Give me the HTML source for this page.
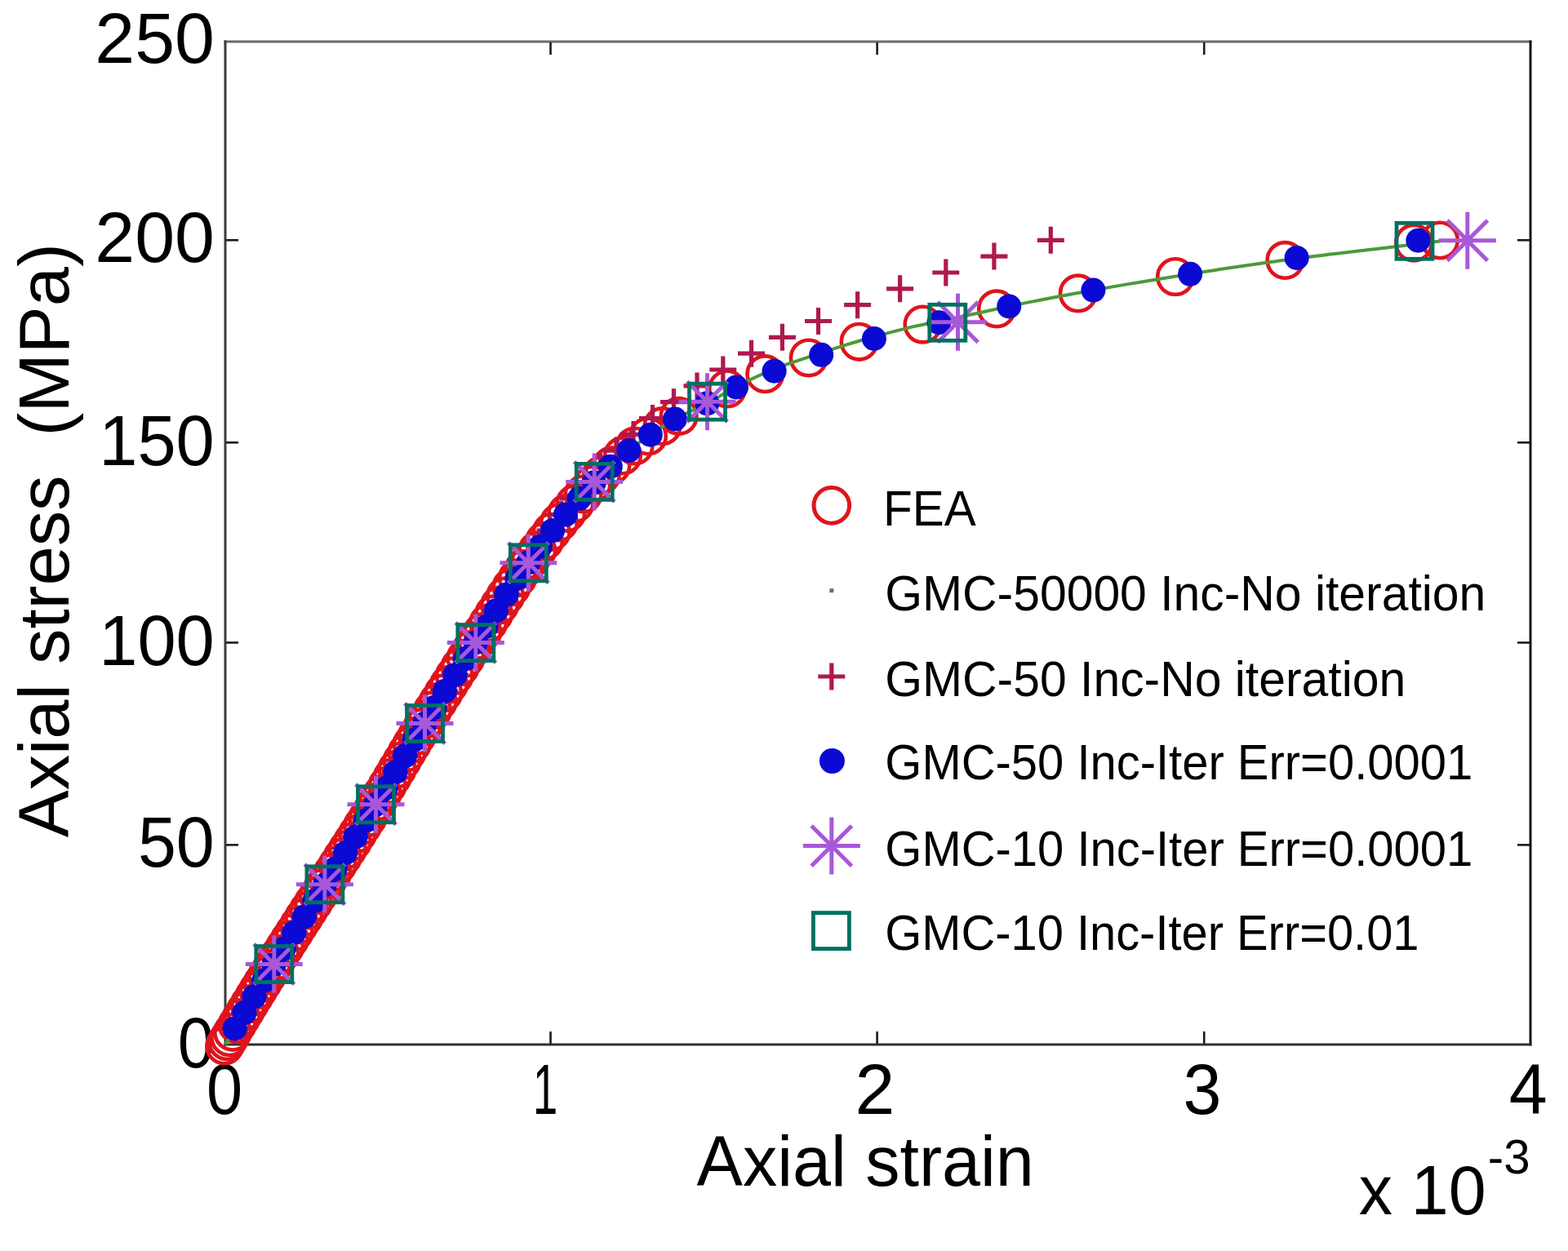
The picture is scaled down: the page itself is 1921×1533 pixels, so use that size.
<!DOCTYPE html>
<html><head><meta charset="utf-8"><title>Axial stress vs axial strain</title><style>html,body{margin:0;padding:0;background:#fff;overflow:hidden;}svg{display:block;}text{white-space:pre;}</style></head><body>
<svg width="1921" height="1533" viewBox="0 0 1921 1533">
<rect width="1921" height="1533" fill="#ffffff"/>
<g id="axes"><line x1="274.5" y1="51" x2="1876.5" y2="51" stroke="#6a6a6a" stroke-width="3"/><line x1="276" y1="49.5" x2="276" y2="1281.5" stroke="#3c3c3c" stroke-width="3"/><line x1="1875" y1="49.5" x2="1875" y2="1281.5" stroke="#141414" stroke-width="3"/><line x1="274.5" y1="1280" x2="1876.5" y2="1280" stroke="#303030" stroke-width="3"/><line x1="277" y1="1035.4" x2="292" y2="1035.4" stroke="#1a1a1a" stroke-width="2.6"/><line x1="1859" y1="1035.4" x2="1874" y2="1035.4" stroke="#1a1a1a" stroke-width="2.6"/><line x1="277" y1="787.5" x2="292" y2="787.5" stroke="#1a1a1a" stroke-width="2.6"/><line x1="1859" y1="787.5" x2="1874" y2="787.5" stroke="#1a1a1a" stroke-width="2.6"/><line x1="277" y1="542.3" x2="292" y2="542.3" stroke="#1a1a1a" stroke-width="2.6"/><line x1="1859" y1="542.3" x2="1874" y2="542.3" stroke="#1a1a1a" stroke-width="2.6"/><line x1="277" y1="294.3" x2="292" y2="294.3" stroke="#1a1a1a" stroke-width="2.6"/><line x1="1859" y1="294.3" x2="1874" y2="294.3" stroke="#1a1a1a" stroke-width="2.6"/><line x1="674.5" y1="1279" x2="674.5" y2="1264" stroke="#1a1a1a" stroke-width="2.6"/><line x1="674.5" y1="52" x2="674.5" y2="67" stroke="#1a1a1a" stroke-width="2.6"/><line x1="1074.6" y1="1279" x2="1074.6" y2="1264" stroke="#1a1a1a" stroke-width="2.6"/><line x1="1074.6" y1="52" x2="1074.6" y2="67" stroke="#1a1a1a" stroke-width="2.6"/><line x1="1475.2" y1="1279" x2="1475.2" y2="1264" stroke="#1a1a1a" stroke-width="2.6"/><line x1="1475.2" y1="52" x2="1475.2" y2="67" stroke="#1a1a1a" stroke-width="2.6"/></g>
<g font-family="Liberation Sans, Arial, Helvetica, sans-serif" fill="#000"><text x="217.87" y="1307.50" font-size="87.5" textLength="44.68" lengthAdjust="spacingAndGlyphs">0</text><text x="168.93" y="1062.20" font-size="87.5" textLength="93.79" lengthAdjust="spacingAndGlyphs">50</text><text x="121.25" y="814.50" font-size="87.5" textLength="141.49" lengthAdjust="spacingAndGlyphs">100</text><text x="121.25" y="569.50" font-size="87.5" textLength="141.49" lengthAdjust="spacingAndGlyphs">150</text><text x="116.31" y="321.30" font-size="87.5" textLength="146.56" lengthAdjust="spacingAndGlyphs">200</text><text x="116.31" y="77.00" font-size="87.5" textLength="146.56" lengthAdjust="spacingAndGlyphs">250</text><text x="252.96" y="1365.30" font-size="87.5" textLength="44.10" lengthAdjust="spacingAndGlyphs">0</text><text x="652.77" y="1365.30" font-size="87.5" textLength="30.58" lengthAdjust="spacingAndGlyphs">1</text><text x="1047.51" y="1365.30" font-size="87.5" textLength="48.79" lengthAdjust="spacingAndGlyphs">2</text><text x="1449.59" y="1365.30" font-size="87.5" textLength="46.93" lengthAdjust="spacingAndGlyphs">3</text><text x="1848.71" y="1365.30" font-size="87.5" textLength="46.90" lengthAdjust="spacingAndGlyphs">4</text><text x="853.53" y="1453.30" font-size="87.5" textLength="413.33" lengthAdjust="spacingAndGlyphs">Axial strain</text><text x="1664.71" y="1488.30" font-size="85.4" textLength="155.82" lengthAdjust="spacingAndGlyphs">x 10</text><text x="1822.84" y="1438.30" font-size="60" textLength="51.73" lengthAdjust="spacingAndGlyphs">-3</text></g>
<g transform="translate(84.3,1026.17) rotate(-90)"><text x="0" y="0" font-family="Liberation Sans, Arial, Helvetica, sans-serif" font-size="87.5" textLength="727.97" lengthAdjust="spacingAndGlyphs">Axial stress  (MPa)</text></g>
<g id="data"><g fill="none" stroke="#e0141c" stroke-width="4.6"><circle cx="275.1" cy="1281.5" r="21.8"/><circle cx="278.2" cy="1276.3" r="21.8"/><circle cx="281.2" cy="1271.2" r="21.8"/><circle cx="285.0" cy="1264.8" r="21.8"/><circle cx="290.6" cy="1255.5" r="21.8"/><circle cx="295.7" cy="1247.1" r="21.8"/><circle cx="300.8" cy="1238.6" r="21.8"/><circle cx="306.0" cy="1230.1" r="21.8"/><circle cx="311.2" cy="1221.5" r="21.8"/><circle cx="316.5" cy="1212.9" r="21.8"/><circle cx="321.8" cy="1204.3" r="21.8"/><circle cx="327.2" cy="1195.6" r="21.8"/><circle cx="332.6" cy="1186.8" r="21.8"/><circle cx="338.1" cy="1178.1" r="21.8"/><circle cx="343.6" cy="1169.2" r="21.8"/><circle cx="349.2" cy="1160.4" r="21.8"/><circle cx="354.9" cy="1151.4" r="21.8"/><circle cx="360.6" cy="1142.5" r="21.8"/><circle cx="366.3" cy="1133.5" r="21.8"/><circle cx="372.2" cy="1124.4" r="21.8"/><circle cx="378.0" cy="1115.3" r="21.8"/><circle cx="383.9" cy="1106.2" r="21.8"/><circle cx="389.8" cy="1097.0" r="21.8"/><circle cx="395.7" cy="1087.8" r="21.8"/><circle cx="401.6" cy="1078.5" r="21.8"/><circle cx="407.6" cy="1069.2" r="21.8"/><circle cx="413.6" cy="1059.8" r="21.8"/><circle cx="419.7" cy="1050.4" r="21.8"/><circle cx="425.8" cy="1040.9" r="21.8"/><circle cx="432.0" cy="1031.4" r="21.8"/><circle cx="438.1" cy="1021.7" r="21.8"/><circle cx="444.2" cy="1011.9" r="21.8"/><circle cx="450.4" cy="1002.2" r="21.8"/><circle cx="456.5" cy="992.3" r="21.8"/><circle cx="462.6" cy="982.4" r="21.8"/><circle cx="468.6" cy="972.5" r="21.8"/><circle cx="474.6" cy="962.5" r="21.8"/><circle cx="480.6" cy="952.5" r="21.8"/><circle cx="486.6" cy="942.4" r="21.8"/><circle cx="492.6" cy="932.3" r="21.8"/><circle cx="498.6" cy="922.1" r="21.8"/><circle cx="504.7" cy="911.9" r="21.8"/><circle cx="510.9" cy="901.6" r="21.8"/><circle cx="517.2" cy="891.2" r="21.8"/><circle cx="523.6" cy="880.8" r="21.8"/><circle cx="530.1" cy="870.4" r="21.8"/><circle cx="536.7" cy="859.9" r="21.8"/><circle cx="543.3" cy="849.4" r="21.8"/><circle cx="550.0" cy="838.8" r="21.8"/><circle cx="556.8" cy="828.1" r="21.8"/><circle cx="563.6" cy="817.4" r="21.8"/><circle cx="570.5" cy="806.6" r="21.8"/><circle cx="577.5" cy="795.8" r="21.8"/><circle cx="584.4" cy="785.0" r="21.8"/><circle cx="591.3" cy="774.2" r="21.8"/><circle cx="598.2" cy="763.3" r="21.8"/><circle cx="605.2" cy="752.4" r="21.8"/><circle cx="612.1" cy="741.5" r="21.8"/><circle cx="619.2" cy="730.4" r="21.8"/><circle cx="626.5" cy="719.4" r="21.8"/><circle cx="634.0" cy="708.2" r="21.8"/><circle cx="641.8" cy="697.1" r="21.8"/><circle cx="649.9" cy="685.8" r="21.8"/><circle cx="658.3" cy="674.5" r="21.8"/><circle cx="666.9" cy="663.2" r="21.8"/><circle cx="675.7" cy="651.8" r="21.8"/><circle cx="684.9" cy="640.3" r="21.8"/><circle cx="694.4" cy="628.8" r="21.8"/><circle cx="704.3" cy="617.2" r="21.8"/><circle cx="714.6" cy="605.5" r="21.8"/><circle cx="725.4" cy="593.8" r="21.8"/><circle cx="736.9" cy="582.1" r="21.8"/><circle cx="749.4" cy="570.3" r="21.8"/><circle cx="762.9" cy="558.4" r="21.8"/><circle cx="777.5" cy="546.5" r="21.8"/><circle cx="794.0" cy="534.4" r="21.8"/><circle cx="811.5" cy="522.2" r="21.8"/><circle cx="831.6" cy="509.9" r="21.8"/><circle cx="891.0" cy="476.5" r="21.8"/><circle cx="937.3" cy="458.2" r="21.8"/><circle cx="990.7" cy="438.5" r="21.8"/><circle cx="1052.6" cy="418.8" r="21.8"/><circle cx="1130.5" cy="397.6" r="21.8"/><circle cx="1221.0" cy="378.4" r="21.8"/><circle cx="1320.8" cy="359.4" r="21.8"/><circle cx="1440.0" cy="339.1" r="21.8"/><circle cx="1574.4" cy="318.9" r="21.8"/><circle cx="1732.0" cy="297.7" r="21.8"/><circle cx="1764.0" cy="294.5" r="21.8"/></g><polyline fill="none" stroke="#4c9a38" stroke-width="4" stroke-linejoin="round" points="276.0,1280.0 277.5,1277.6 278.9,1275.1 280.4,1272.7 281.8,1270.2 283.3,1267.8 284.7,1265.3 286.2,1262.9 287.7,1260.4 289.1,1258.0 290.6,1255.5 292.1,1253.1 293.5,1250.6 295.0,1248.2 296.5,1245.8 298.0,1243.3 299.5,1240.9 300.9,1238.4 302.4,1236.0 303.9,1233.5 305.4,1231.1 306.9,1228.6 308.4,1226.2 309.9,1223.7 311.4,1221.3 312.9,1218.8 314.4,1216.4 315.8,1214.0 317.4,1211.5 318.9,1209.1 320.4,1206.6 321.9,1204.2 323.4,1201.7 324.9,1199.3 326.4,1196.8 327.9,1194.4 329.4,1191.9 330.9,1189.5 332.5,1187.1 334.0,1184.6 335.5,1182.2 337.0,1179.7 338.6,1177.3 340.1,1174.8 341.6,1172.4 343.2,1169.9 344.7,1167.5 346.2,1165.0 347.8,1162.6 349.3,1160.1 350.9,1157.7 352.4,1155.3 354.0,1152.8 355.6,1150.4 357.1,1147.9 358.7,1145.5 360.2,1143.0 361.8,1140.6 363.4,1138.1 364.9,1135.7 366.5,1133.2 368.1,1130.8 369.6,1128.3 371.2,1125.9 372.8,1123.5 374.4,1121.0 375.9,1118.6 377.5,1116.1 379.1,1113.7 380.6,1111.2 382.2,1108.8 383.8,1106.3 385.4,1103.9 386.9,1101.4 388.5,1099.0 390.1,1096.5 391.6,1094.1 393.2,1091.7 394.8,1089.2 396.3,1086.8 397.9,1084.3 399.5,1081.9 401.0,1079.4 402.6,1077.0 404.2,1074.5 405.7,1072.1 407.3,1069.6 408.9,1067.2 410.5,1064.8 412.0,1062.3 413.6,1059.9 415.2,1057.4 416.8,1055.0 418.3,1052.5 419.9,1050.1 421.5,1047.6 423.1,1045.2 424.7,1042.7 426.2,1040.3 427.8,1037.8 429.4,1035.4 431.0,1032.9 432.5,1030.4 434.1,1028.0 435.7,1025.5 437.2,1023.0 438.8,1020.5 440.4,1018.0 441.9,1015.6 443.5,1013.1 445.1,1010.6 446.6,1008.1 448.2,1005.7 449.7,1003.2 451.3,1000.7 452.8,998.2 454.4,995.7 455.9,993.3 457.4,990.8 459.0,988.3 460.5,985.8 462.0,983.3 463.5,980.9 465.1,978.4 466.6,975.9 468.1,973.4 469.6,970.9 471.1,968.5 472.5,966.0 474.0,963.5 475.5,961.0 477.0,958.6 478.5,956.1 479.9,953.6 481.4,951.1 482.9,948.6 484.4,946.2 485.8,943.7 487.3,941.2 488.8,938.7 490.2,936.2 491.7,933.8 493.2,931.3 494.6,928.8 496.1,926.3 497.6,923.8 499.1,921.4 500.5,918.9 502.0,916.4 503.5,913.9 505.0,911.5 506.5,909.0 507.9,906.5 509.4,904.0 510.9,901.5 512.4,899.1 513.9,896.6 515.4,894.1 517.0,891.6 518.5,889.1 520.0,886.7 521.5,884.2 523.1,881.7 524.6,879.2 526.1,876.7 527.7,874.3 529.2,871.8 530.8,869.3 532.3,866.8 533.9,864.3 535.4,861.9 537.0,859.4 538.5,856.9 540.1,854.4 541.7,852.0 543.2,849.5 544.8,847.0 546.4,844.5 547.9,842.0 549.5,839.6 551.1,837.1 552.7,834.6 554.2,832.1 555.8,829.6 557.4,827.2 559.0,824.7 560.6,822.2 562.1,819.7 563.7,817.2 565.3,814.8 566.9,812.3 568.5,809.8 570.1,807.3 571.7,804.9 573.3,802.4 574.8,799.9 576.4,797.4 578.0,794.9 579.6,792.5 581.2,790.0 582.8,787.5 584.4,785.0 586.0,782.6 587.5,780.1 589.1,777.7 590.7,775.2 592.2,772.8 593.8,770.3 595.4,767.9 596.9,765.4 598.5,763.0 600.0,760.5 601.6,758.1 603.1,755.6 604.7,753.2 606.2,750.7 607.8,748.3 609.4,745.8 610.9,743.4 612.5,740.9 614.1,738.5 615.6,736.0 617.2,733.6 618.8,731.1 620.4,728.7 622.0,726.2 623.6,723.7 625.2,721.3 626.8,718.8 628.5,716.4 630.1,713.9 631.8,711.5 633.5,709.0 635.1,706.6 636.8,704.1 638.5,701.7 640.3,699.2 642.0,696.8 643.8,694.3 645.5,691.9 647.3,689.4 649.1,687.0 650.9,684.5 652.7,682.1 654.5,679.6 656.3,677.2 658.2,674.7 660.0,672.3 661.8,669.8 663.7,667.4 665.6,664.9 667.4,662.4 669.3,660.0 671.2,657.5 673.1,655.1 675.0,652.6 677.0,650.2 678.9,647.7 680.9,645.3 682.8,642.8 684.8,640.4 686.8,637.9 688.8,635.5 690.8,633.0 692.9,630.6 694.9,628.1 697.0,625.7 699.1,623.2 701.2,620.8 703.3,618.3 705.4,615.9 707.6,613.4 709.7,611.0 711.9,608.5 714.1,606.1 716.4,603.6 718.6,601.1 720.9,598.7 723.2,596.2 725.5,593.8 727.8,591.3 730.2,588.9 732.6,586.4 735.0,584.0 737.5,581.5 740.0,579.1 742.6,576.6 745.2,574.2 747.8,571.7 750.5,569.3 753.2,566.8 756.0,564.4 758.8,561.9 761.6,559.5 764.5,557.0 767.4,554.6 770.4,552.1 773.4,549.7 776.6,547.2 779.8,544.8 783.1,542.3 786.4,539.9 789.8,537.5 793.3,535.1 796.8,532.7 800.3,530.3 803.9,527.9 807.4,525.5 811.1,523.1 814.8,520.7 818.7,518.3 822.7,515.9 826.9,513.5 831.3,511.1 836.1,508.7 841.1,506.3 846.2,503.9 851.3,501.5 856.5,499.1 861.5,496.7 866.3,494.3 870.9,491.8 875.3,489.3 879.5,486.9 883.8,484.3 888.1,481.6 892.5,479.0 897.1,476.3 902.0,473.7 907.2,471.0 912.6,468.4 918.1,465.7 923.9,463.0 929.9,460.3 936.0,457.6 942.2,454.9 948.6,452.2 955.2,449.7 962.0,447.2 969.0,444.7 976.2,442.3 983.6,439.8 991.0,437.3 998.6,434.8 1006.2,432.3 1013.8,429.9 1021.5,427.4 1029.3,424.9 1037.3,422.4 1045.3,420.0 1053.6,417.5 1062.1,415.0 1070.9,412.5 1080.0,410.1 1089.5,407.6 1099.3,405.1 1109.3,402.6 1119.4,400.1 1129.7,398.0 1140.1,395.8 1150.4,393.7 1160.7,391.5 1171.0,389.4 1181.4,387.2 1191.9,385.0 1202.6,382.8 1213.5,380.3 1224.7,377.9 1236.2,375.4 1248.1,372.9 1260.3,370.4 1272.9,368.0 1285.7,365.5 1298.8,363.0 1312.1,360.5 1325.7,358.1 1339.4,355.6 1353.4,353.1 1367.6,350.6 1382.2,348.1 1397.0,345.7 1412.0,343.2 1427.2,340.7 1442.6,338.2 1458.1,335.8 1463.3,334.9 1468.5,334.1 1473.7,333.3 1478.9,332.5 1484.1,331.7 1489.3,330.9 1494.5,330.1 1499.7,329.3 1504.9,328.6 1510.1,327.8 1515.3,327.0 1520.5,326.3 1525.7,325.5 1530.9,324.8 1536.1,324.0 1541.3,323.3 1546.5,322.5 1551.7,321.8 1556.9,321.1 1562.1,320.4 1567.3,319.6 1572.5,318.9 1577.7,318.2 1582.9,317.5 1588.1,316.9 1593.3,316.2 1598.5,315.5 1603.7,314.8 1608.9,314.2 1614.2,313.5 1619.4,312.9 1624.6,312.3 1629.8,311.6 1635.0,311.0 1640.2,310.4 1645.4,309.8 1650.6,309.2 1655.8,308.5 1661.0,307.9 1666.2,307.3 1671.4,306.7 1676.6,306.1 1681.8,305.5 1687.0,304.9 1692.2,304.3 1697.4,303.7 1702.6,303.0 1707.8,302.4 1713.0,301.8 1718.2,301.2 1723.4,300.5 1728.6,299.9 1733.8,299.3 1739.0,298.6 1744.2,298.0 1749.4,297.4 1754.6,296.8 1759.8,296.1 1765.0,295.5"/><path fill="none" stroke="#b0184e" stroke-width="5.2" d="M271.2 1260.4H304.2M287.7 1243.9V1276.9M283.0 1240.9H316.0M299.5 1224.4V1257.4M294.9 1221.3H327.9M311.4 1204.8V1237.8M306.9 1201.7H339.9M323.4 1185.2V1218.2M319.0 1182.2H352.0M335.5 1165.7V1198.7M331.3 1162.6H364.3M347.8 1146.1V1179.1M343.7 1143.0H376.7M360.2 1126.5V1159.5M356.3 1123.5H389.3M372.8 1107.0V1140.0M368.9 1103.9H401.9M385.4 1087.4V1120.4M381.4 1084.3H414.4M397.9 1067.8V1100.8M394.0 1064.8H427.0M410.5 1048.3V1081.3M406.6 1045.2H439.6M423.1 1028.7V1061.7M419.2 1025.5H452.2M435.7 1009.0V1042.0M431.7 1005.7H464.7M448.2 989.2V1022.2M444.0 985.8H477.0M460.5 969.3V1002.3M456.0 966.0H489.0M472.5 949.5V982.5M467.9 946.2H500.9M484.4 929.7V962.7M479.6 926.3H512.6M496.1 909.8V942.8M491.4 906.5H524.4M507.9 890.0V923.0M503.5 886.7H536.5M520.0 870.2V903.2M515.8 866.8H548.8M532.3 850.3V883.3M528.3 847.0H561.3M544.8 830.5V863.5M540.9 827.2H573.9M557.4 810.7V843.7M553.6 807.3H586.6M570.1 790.8V823.8M566.3 787.5H599.3M582.8 771.0V804.0M578.9 767.9H611.9M595.4 751.4V784.4M591.6 748.3H624.6M608.1 731.8V764.8M604.5 728.7H637.5M621.0 712.2V745.2M617.5 709.0H650.5M634.0 692.5V725.5M630.8 689.4H663.8M647.3 672.9V705.9M644.1 669.8H677.1M660.6 653.3V686.3M657.5 650.2H690.5M674.0 633.7V666.7M671.2 630.6H704.2M687.7 614.1V647.1M685.7 611.0H718.7M702.2 594.5V627.5M701.5 591.3H734.5M718.0 574.8V607.8M719.0 571.7H752.0M735.5 555.2V588.2M738.4 552.1H771.4M754.9 535.6V568.6M759.5 532.4H792.5M776.0 515.9V548.9M783.0 512.5H816.0M799.5 496.0V529.0M808.9 492.7H841.9M825.4 476.2V509.2M837.5 472.9H870.5M854.0 456.4V489.4M869.3 453.0H902.3M885.8 436.5V469.5M904.0 433.2H937.0M920.5 416.7V449.7M941.9 413.3H974.9M958.4 396.8V429.8M986.0 393.5H1019.0M1002.5 377.0V410.0M1034.1 373.7H1067.1M1050.6 357.2V390.2M1086.1 353.8H1119.1M1102.6 337.3V370.3M1142.3 334.0H1175.3M1158.8 317.5V350.5M1201.4 314.1H1234.4M1217.9 297.6V330.6M1270.8 294.3H1303.8M1287.3 277.8V310.8"/><g fill="#0a0ad4"><circle cx="287.7" cy="1260.4" r="15"/><circle cx="299.5" cy="1240.9" r="15"/><circle cx="311.4" cy="1221.3" r="15"/><circle cx="323.4" cy="1201.7" r="15"/><circle cx="335.5" cy="1182.2" r="15"/><circle cx="347.8" cy="1162.6" r="15"/><circle cx="360.2" cy="1143.0" r="15"/><circle cx="372.8" cy="1123.5" r="15"/><circle cx="385.4" cy="1103.9" r="15"/><circle cx="397.9" cy="1084.3" r="15"/><circle cx="410.5" cy="1064.8" r="15"/><circle cx="423.1" cy="1045.2" r="15"/><circle cx="435.7" cy="1025.5" r="15"/><circle cx="448.2" cy="1005.7" r="15"/><circle cx="460.5" cy="985.8" r="15"/><circle cx="472.5" cy="966.0" r="15"/><circle cx="484.4" cy="946.2" r="15"/><circle cx="496.1" cy="926.3" r="15"/><circle cx="507.9" cy="906.5" r="15"/><circle cx="520.0" cy="886.7" r="15"/><circle cx="532.3" cy="866.8" r="15"/><circle cx="544.8" cy="847.0" r="15"/><circle cx="557.4" cy="827.2" r="15"/><circle cx="570.1" cy="807.3" r="15"/><circle cx="582.8" cy="787.5" r="15"/><circle cx="595.4" cy="767.9" r="15"/><circle cx="607.8" cy="748.3" r="15"/><circle cx="620.4" cy="728.7" r="15"/><circle cx="633.5" cy="709.0" r="15"/><circle cx="647.3" cy="689.4" r="15"/><circle cx="661.8" cy="669.8" r="15"/><circle cx="677.0" cy="650.2" r="15"/><circle cx="692.9" cy="630.6" r="15"/><circle cx="709.7" cy="611.0" r="15"/><circle cx="727.8" cy="591.3" r="15"/><circle cx="747.8" cy="571.7" r="15"/><circle cx="770.4" cy="552.1" r="15"/><circle cx="796.8" cy="532.7" r="15"/><circle cx="826.9" cy="513.5" r="15"/><circle cx="866.3" cy="494.3" r="15"/><circle cx="902.0" cy="474.5" r="15"/><circle cx="948.6" cy="454.7" r="15"/><circle cx="1006.2" cy="434.8" r="15"/><circle cx="1070.9" cy="415.0" r="15"/><circle cx="1150.4" cy="395.2" r="15"/><circle cx="1236.2" cy="375.4" r="15"/><circle cx="1339.4" cy="355.6" r="15"/><circle cx="1458.1" cy="335.8" r="15"/><circle cx="1588.6" cy="315.9" r="15"/><circle cx="1737.4" cy="294.7" r="15"/></g><path fill="none" stroke="#a858d8" stroke-width="5" d="M300.8 1181.5H370.8M335.8 1146.5V1216.5M311.1 1156.8L360.5 1206.2M311.1 1206.2L360.5 1156.8M362.9 1083.8H432.9M397.9 1048.8V1118.8M373.2 1059.1L422.6 1108.5M373.2 1108.5L422.6 1059.1M425.5 985.8H495.5M460.5 950.8V1020.8M435.8 961.1L485.2 1010.5M435.8 1010.5L485.2 961.1M485.5 886.5H555.5M520.5 851.5V921.5M495.8 861.8L545.2 911.2M495.8 911.2L545.2 861.8M547.8 787.6H617.8M582.8 752.6V822.6M558.1 762.9L607.5 812.3M558.1 812.3L607.5 762.9M612.3 689.8H682.3M647.3 654.8V724.8M622.6 665.1L672.0 714.5M622.6 714.5L672.0 665.1M693.2 590.4H763.2M728.2 555.4V625.4M703.5 565.7L752.9 615.1M703.5 615.1L752.9 565.7M831.5 492.2H901.5M866.5 457.2V527.2M841.8 467.5L891.2 516.9M841.8 516.9L891.2 467.5M1138.5 394.7H1208.5M1173.5 359.7V429.7M1148.8 370.0L1198.2 419.4M1148.8 419.4L1198.2 370.0M1762.8 294.7H1832.8M1797.8 259.7V329.7M1773.1 270.0L1822.5 319.4M1773.1 319.4L1822.5 270.0"/><g fill="none" stroke="#007060" stroke-width="4.8"><rect x="313.8" y="1159.5" width="44" height="44"/><rect x="375.9" y="1061.8" width="44" height="44"/><rect x="438.5" y="963.8" width="44" height="44"/><rect x="498.5" y="864.5" width="44" height="44"/><rect x="560.8" y="765.6" width="44" height="44"/><rect x="625.3" y="667.8" width="44" height="44"/><rect x="706.2" y="568.4" width="44" height="44"/><rect x="844.5" y="470.2" width="44" height="44"/><rect x="1138.8" y="373.3" width="44" height="44"/><rect x="1711.0" y="273.3" width="44" height="44"/></g></g>
<g font-family="Liberation Sans, Arial, Helvetica, sans-serif" fill="#000"><text x="1082.00" y="643.90" font-size="61.5" textLength="113.81" lengthAdjust="spacingAndGlyphs">FEA</text><text x="1084.26" y="747.50" font-size="61.5" textLength="736.09" lengthAdjust="spacingAndGlyphs">GMC-50000 Inc-No iteration</text><text x="1084.26" y="853.30" font-size="61.5" textLength="637.97" lengthAdjust="spacingAndGlyphs">GMC-50 Inc-No iteration</text><text x="1084.30" y="954.90" font-size="61.5" textLength="719.96" lengthAdjust="spacingAndGlyphs">GMC-50 Inc-Iter Err=0.0001</text><text x="1084.30" y="1061.40" font-size="61.5" textLength="719.96" lengthAdjust="spacingAndGlyphs">GMC-10 Inc-Iter Err=0.0001</text><text x="1084.31" y="1164.20" font-size="61.5" textLength="654.24" lengthAdjust="spacingAndGlyphs">GMC-10 Inc-Iter Err=0.01</text></g>
<g id="legend"><circle cx="1018.8" cy="619.4" r="21.8" fill="none" stroke="#e0141c" stroke-width="5"/><rect x="1016.3" y="721.2" width="5" height="5" fill="#6a7266"/><path d="M1002.3 829H1035.3M1018.8 812.5V845.5" stroke="#b0184e" stroke-width="5.2" fill="none"/><circle cx="1019.4" cy="932.5" r="15.5" fill="#0a0ad4"/><path d="M983.8 1036.6H1053.8M1018.8 1001.6V1071.6M994.1 1011.9L1043.5 1061.3M994.1 1061.3L1043.5 1011.9" stroke="#a858d8" stroke-width="5" fill="none"/><rect x="996.4" y="1118.6" width="44" height="44" fill="none" stroke="#007060" stroke-width="4.8"/></g>
</svg>
</body></html>
